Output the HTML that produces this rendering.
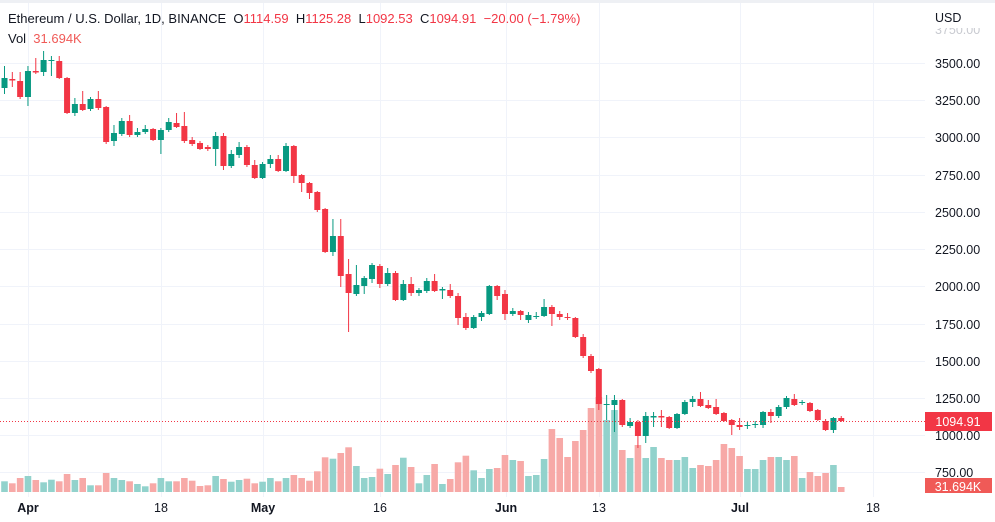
<!DOCTYPE html>
<html><head><meta charset="utf-8">
<style>
html,body{margin:0;padding:0;background:#fff;width:995px;height:522px;overflow:hidden}
svg{display:block;font-family:"Liberation Sans","DejaVu Sans",sans-serif}
</style></head>
<body>
<svg id="c" width="995" height="522" viewBox="0 0 995 522" xmlns="http://www.w3.org/2000/svg">
<rect x="0" y="0" width="995" height="522" fill="#fff"/>
<g id="grid" stroke="#f0f3fa" stroke-width="1"></g>
<g id="vol"></g>
<g id="cand"></g>
<line x1="0" y1="421.5" x2="925" y2="421.5" stroke="#f23645" stroke-width="1" stroke-dasharray="1,2"/>
<g font-size="12.5" fill="#131722">
<text x="935" y="34" fill="#c8cad0">3750.00</text>
<rect x="928" y="0" width="67" height="28" fill="#fff"/>
<text x="935" y="22">USD</text>
<text x="935" y="68">3500.00</text>
<text x="935" y="105">3250.00</text>
<text x="935" y="142">3000.00</text>
<text x="935" y="180">2750.00</text>
<text x="935" y="217">2500.00</text>
<text x="935" y="254">2250.00</text>
<text x="935" y="291">2000.00</text>
<text x="935" y="329">1750.00</text>
<text x="935" y="366">1500.00</text>
<text x="935" y="403">1250.00</text>
<text x="935" y="440">1000.00</text>
<text x="935" y="477">750.00</text>
</g>
<rect x="0" y="0" width="995" height="3" fill="#eef0f4"/>
<rect x="925" y="412" width="67" height="19" fill="#f23645"/>
<text x="958" y="426" font-size="12.5" fill="#fff" text-anchor="middle">1094.91</text>
<rect x="925" y="478" width="67" height="15" fill="#f05a57"/>
<text x="958" y="491" font-size="12.5" fill="#fff" text-anchor="middle">31.694K</text>
<g font-size="12.5" fill="#131722" text-anchor="middle">
<text x="28" y="512" font-weight="bold">Apr</text>
<text x="161" y="512">18</text>
<text x="263" y="512" font-weight="bold">May</text>
<text x="380" y="512">16</text>
<text x="506" y="512" font-weight="bold">Jun</text>
<text x="599" y="512">13</text>
<text x="740" y="512" font-weight="bold">Jul</text>
<text x="873" y="512">18</text>
</g>
<text x="8" y="23" font-size="13" fill="#131722" xml:space="preserve">Ethereum / U.S. Dollar, 1D, BINANCE  O<tspan fill="#f23645">1114.59</tspan>  H<tspan fill="#f23645">1125.28</tspan>  L<tspan fill="#f23645">1092.53</tspan>  C<tspan fill="#f23645">1094.91</tspan>  <tspan fill="#f23645">−20.00 (−1.79%)</tspan></text>
<text x="8" y="43" font-size="13" fill="#131722" xml:space="preserve">Vol  <tspan fill="#f05a57">31.694K</tspan></text>
</svg>
<script>
var NS="http://www.w3.org/2000/svg";
function el(p,t,a){var e=document.createElementNS(NS,t);for(var k in a)e.setAttribute(k,a[k]);p.appendChild(e);return e;}
var grid=document.getElementById('grid');
[63,100,137,175,212,249,286,324,361,398,435,472].forEach(function(y){el(grid,'line',{x1:0,x2:925,y1:y+0.5,y2:y+0.5});});
[28,161,263,380,506,599,740,873].forEach(function(x){el(grid,'line',{x1:x+0.5,x2:x+0.5,y1:3,y2:497});});
var C=[
['g',78,88,66,94],['r',79,80.5,72,87],['r',81,97,72,99],['g',71,97,66,106],['r',71,72.5,58,74],['g',60,72,51,76],['g',60,61,56,76],['r',61,78,56,79],['r',78,113,77,114],['g',104,113,98,116],
['r',104,110,91,111],['g',99,109,97,111],['r',99,108,91,110],['r',107,142,106,144],['g',133,141,125,146],['g',121,134,118,136],['r',121,135,115,137],['g',132,135,128,137],['g',129,132,125,134],['r',129,140,128,141],
['g',130,140,128,154],['g',122,130,118,132],['r',123,127,113,128],['r',126,141,112,143],['r',140,144,137,146],['r',143,149,141,150],['r',147,149,145,151],['g',136,149,132,166],['r',136,166,133,170],['g',154,166,150,168],
['g',147,155,142,158],['r',147,165,145,167],['r',165,178,160,179],['g',164,178,162,179],['g',159,164,155,168],['r',159,171,155,172],['g',146,171,143,172],['r',146,176,145,183],['r',175,183,174,192],['r',183,193,182,199],
['r',192,210,191,212],['r',209,252,208,253],['g',236,252,219,256],['r',236,276,219,287],['r',274,293,259,332],['g',285,294,265,296],['g',278,286,276,294],['g',265,279,263,283],['r',266,284,264,288],['g',273,284,268,286],
['r',273,300,271,301],['g',284,300,280,301],['r',284,293,277,296],['g',290,293,288,296],['g',281,291,278,293],['r',281,291,274,292],['g',289,290.5,287,299],['r',290,296,284,298],['r',296,318,293,325],['r',317,328,313,330],
['g',317,328,315,329],['g',313,317,311,321],['g',286,314,285,315],['r',286,296,285,300],['r',294,314,290,320],['g',311,314,308,316],['r',311,315,310,320],['g',315,320,312,323],['g',316,317,312,319],['g',307,316,299,317],
['r',307,314,305,326],['r',314,317,311,320],['r',317,318,313,320],['r',318,337,317,338],['r',337,356,334,358],['r',356,371,354,373],['r',369,404,368,410],['g',404,405,395,420],['g',400,405,395,432],['r',400,425,399,427],
['g',422,426,418,428],['r',422,436,420,448],['g',416,436,412,443],['g',416,417.5,412,427],['r',416,417.5,410,427],['r',417,428,416,429],['g',414,428,413,429],['g',402,414,400,415],['g',399,402,396,407],['r',399,406,392,407],
['r',405,408,400,409],['r',407,414,399,415],['r',413,421,412,422],['r',420,425,419,435],['r',425,427,418,430],['g',425,426,422,429],['g',424,425,421,428],['g',412,425,411,428],['r',412,416,409,423],['g',407,416,405,418],
['g',398,407,396,409],['r',399,405,394,406],['g',402,403,400,405],['r',403,411,402,412],['r',410,420,409,421],['r',421,430,419,431],['g',418,430,417,433],['r',418,421,416,422]];
var V=[481.3,483.3,478,476,480,482.3,479.7,481.3,474,480,478,485.3,485.3,473,478,480,481.3,484,486.3,483.3,478,481.3,481.3,478,480.7,486,485.3,476,479,481.7,480,478.7,483.3,481.7,478,481.3,478,475,478,480.7,471.3,457.3,458.7,453,447.3,466,478,477,468.7,474,465,457.7,467,483.3,475,464,484,479,462.3,455.7,470.3,
478,469,468,455,460,461,476,475,459,429,438,457,441,430,408,397,420,410,
450,458,445,458,447,458,460,460,457,468,465,466,460,444,448,456,469,469,460,457,457,460,456,478,472,476,473,465,487];
var vg=document.getElementById('vol'),cg=document.getElementById('cand');
for(var i=0;i<C.length;i++){
 var x=4.5+i*7.82,c=C[i],col=c[0]=='g'?'#089981':'#f23645',vcol=c[0]=='g'?'#92d2cc':'#f7a9a7';
 var vy=V[i]; if(vy!==undefined) el(vg,'rect',{x:(x-3.3).toFixed(2),y:vy,width:6.6,height:(492-vy).toFixed(2),fill:vcol});
 el(cg,'rect',{x:(x-0.5).toFixed(2),y:c[3],width:1,height:c[4]-c[3],fill:col});
 var h=Math.max(1,c[2]-c[1]);
 el(cg,'rect',{x:(x-3).toFixed(2),y:c[1],width:6,height:h,fill:col});
}
</script>
</body></html>
